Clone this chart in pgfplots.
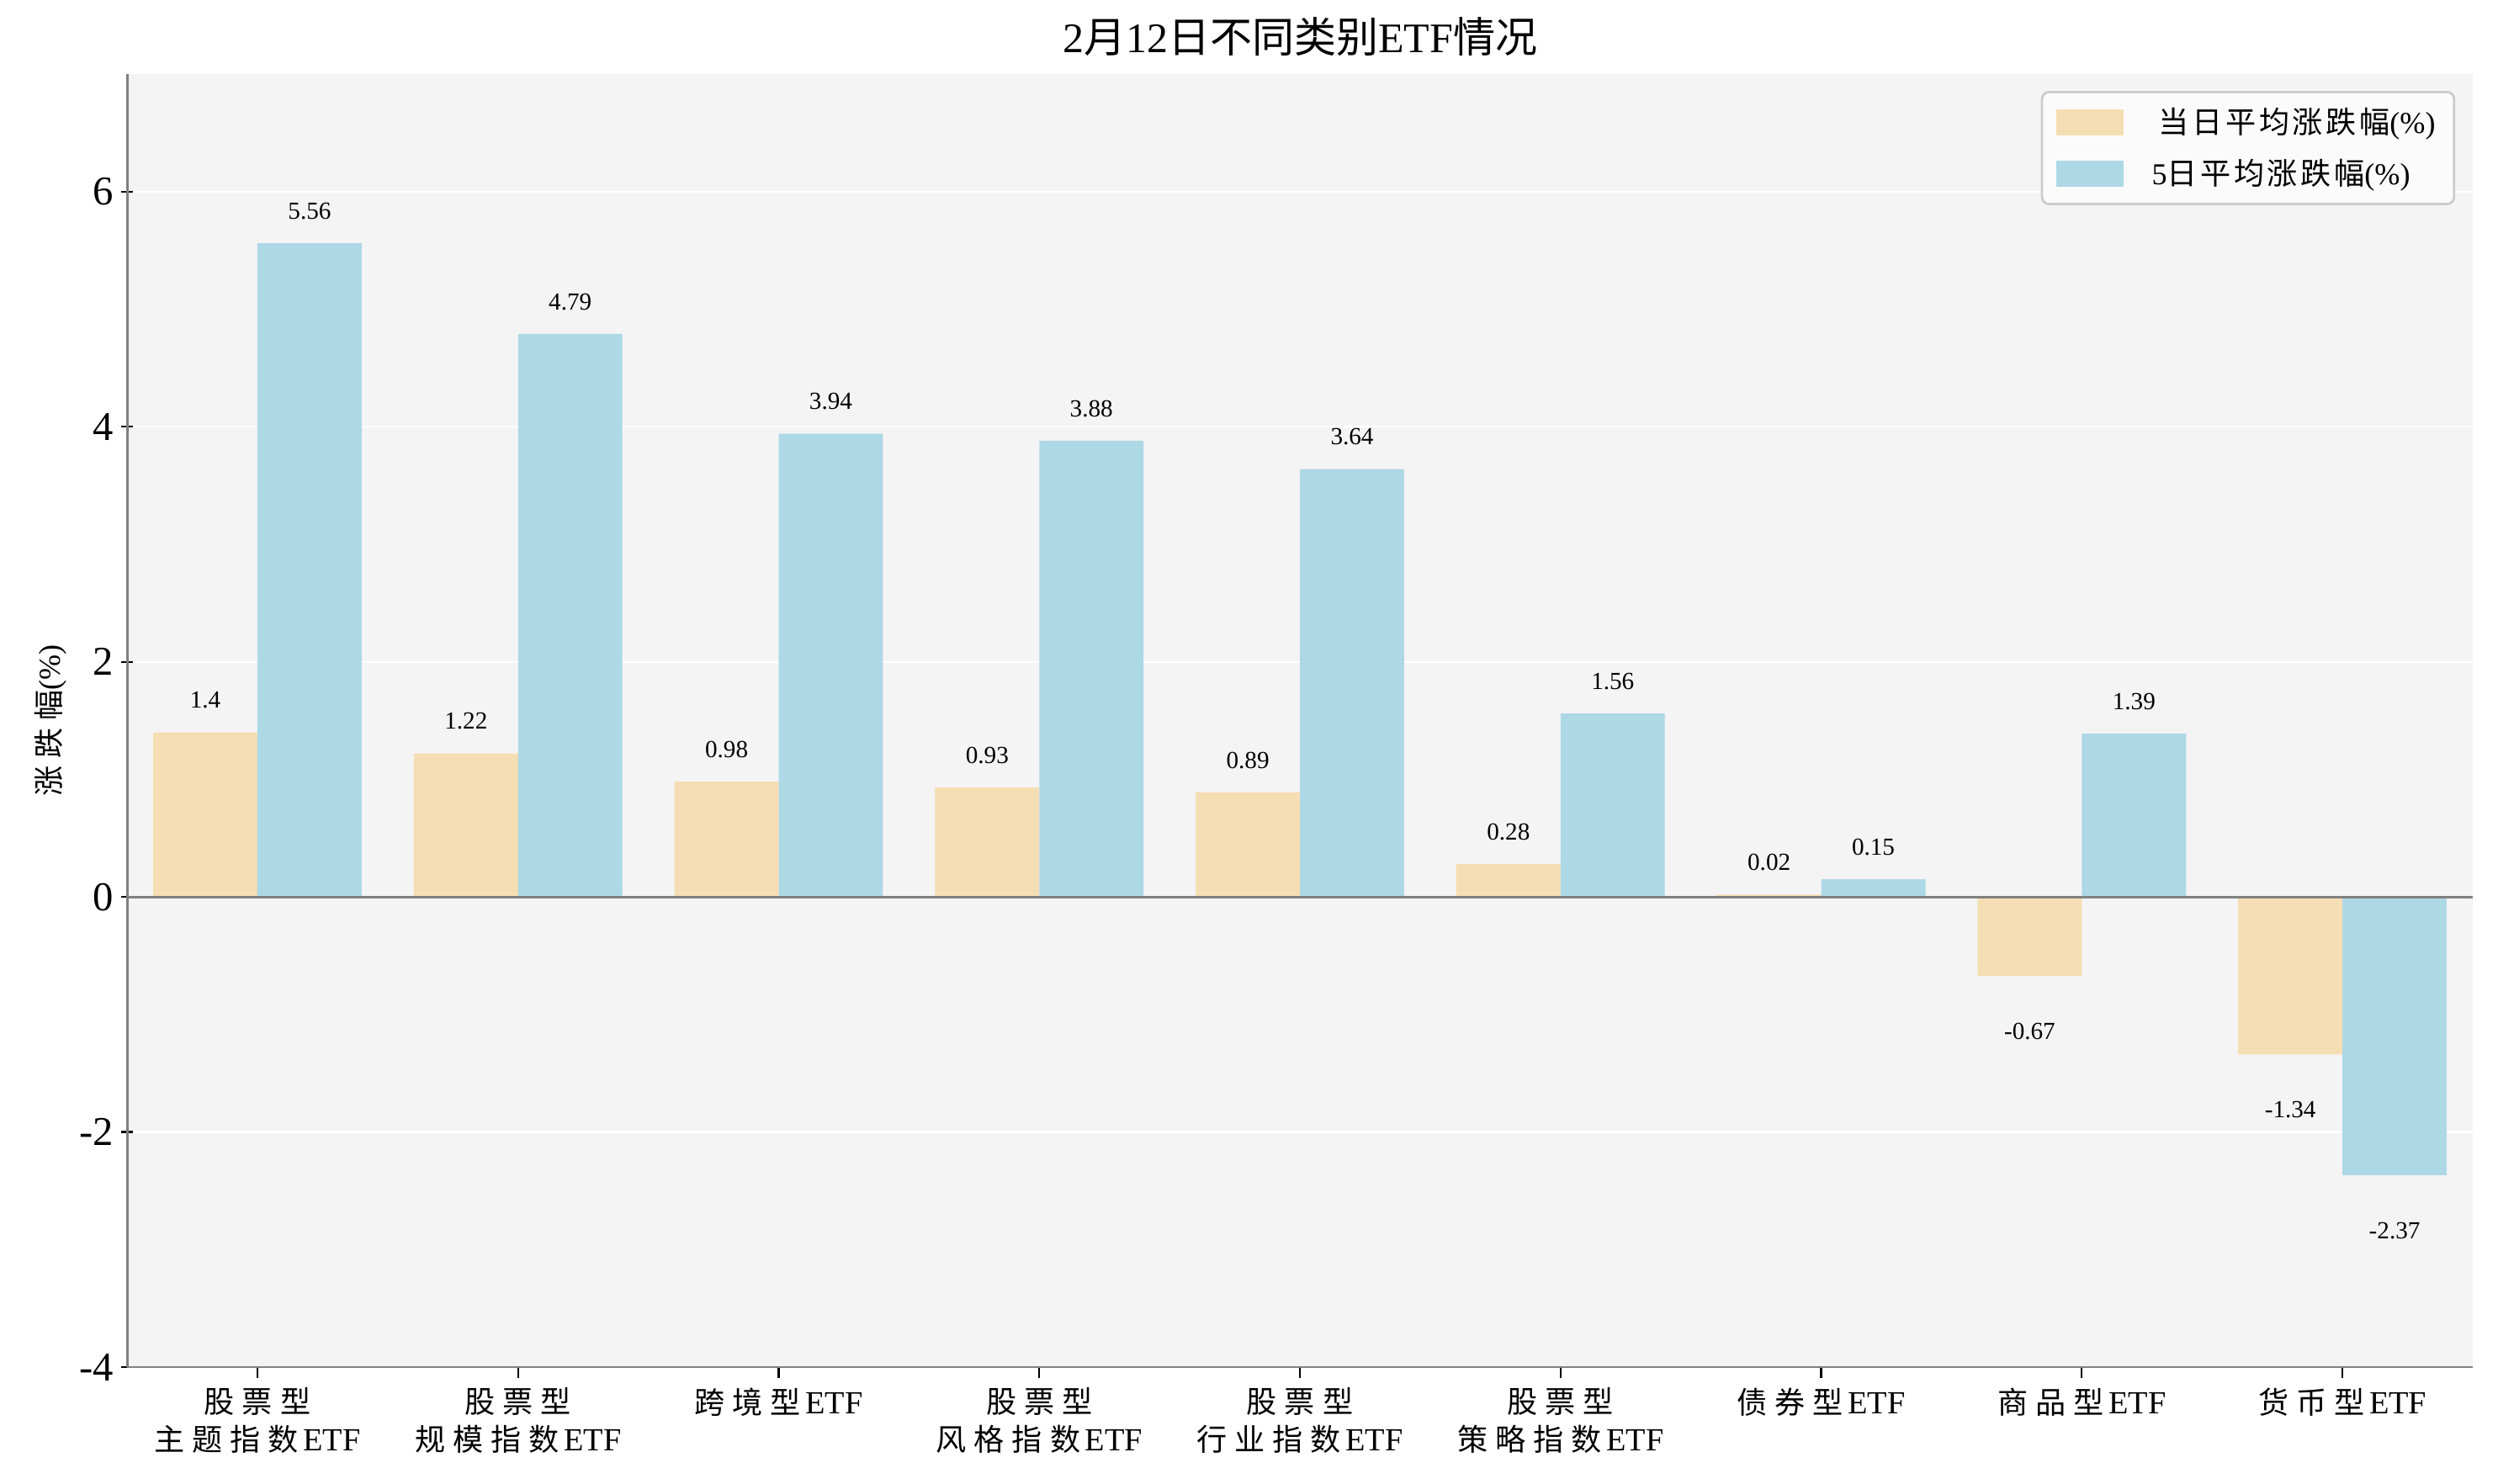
\documentclass[border=0pt]{standalone}
\usepackage{pgfplots}
\pgfplotsset{compat=1.18}
\usepackage{fontspec}
\setmainfont{Liberation Serif}
\newfontfamily\cjk{Noto Sans CJK SC}
\newfontfamily\cjks[LetterSpace=25]{Noto Sans CJK SC}
\newfontfamily\cjkm[LetterSpace=10]{Noto Sans CJK SC}
\newcommand\etf{\hspace{2pt}{\fontsize{13.8}{16}\selectfont ETF}}
\definecolor{wheatc}{HTML}{F5DEB3}
\definecolor{lbluec}{HTML}{ADD8E6}
\definecolor{bgc}{HTML}{F4F4F4}
\definecolor{spinec}{HTML}{808080}
\definecolor{legedge}{HTML}{CCCCCC}
\definecolor{legfill}{HTML}{FBFBFB}
\begin{document}
\begin{tikzpicture}
\begin{axis}[
  at={(0,0)}, anchor=south west,
  scale only axis, width=1003.7pt, height=553.3pt,
  xmin=-0.5, xmax=8.5, ymin=-4, ymax=7,
  axis background/.style={fill=bgc},
  axis x line*=bottom, axis y line*=left,
  axis line style={spinec, line width=1pt},
  ytick={-4,-2,0,2,4,6},
  ymajorgrids, major grid style={white, line width=0.8pt},
  xtick={0,...,8},
  xticklabels={
    {{\cjks 股票型}\\{\cjks 主题指数}\etf},
    {{\cjks 股票型}\\{\cjks 规模指数}\etf},
    {{\cjks 跨境型}\etf},
    {{\cjks 股票型}\\{\cjks 风格指数}\etf},
    {{\cjks 股票型}\\{\cjks 行业指数}\etf},
    {{\cjks 股票型}\\{\cjks 策略指数}\etf},
    {{\cjks 债券型}\etf},
    {{\cjks 商品型}\etf},
    {{\cjks 货币型}\etf}},
  xticklabel style={font=\fontsize{13}{16}\selectfont, align=center, anchor=north, yshift=-0.5pt},
  yticklabel style={font=\fontsize{17.5}{20}\selectfont},
  /pgf/number format/assume math mode=true,
  /pgf/number format/fixed, /pgf/number format/precision=2,
  tick align=center, major tick length=4.8pt,
  tick style={black, line width=0.8pt},
  ylabel={{\cjks 涨跌幅}(\%)},
  every axis y label/.style={at={(axis description cs:0,0.5)}, xshift=-32.8pt, rotate=90, anchor=center, font=\fontsize{13}{15}\selectfont},
  title={2{\cjk 月}12{\cjk 日不同类别}ETF{\cjk 情况}},
  title style={at={(axis description cs:0.5,1)}, anchor=south, yshift=-2pt, font=\fontsize{18}{20}\selectfont},
  ybar, bar width=0.4,
  legend cell align=left,
  legend style={at={(axis description cs:1,1)}, anchor=north east, xshift=-7.5pt, yshift=-7.2pt,
    draw=legedge, fill=legfill, rounded corners=3pt, line width=1pt,
    font=\fontsize{13}{16}\selectfont, inner xsep=6pt, inner ysep=4.7pt, row sep=5.7pt,
    nodes={inner sep=2pt}},
  legend image code/.code={\path[#1, draw=none, sharp corners] (0pt,-5.5pt) rectangle (29pt,5.5pt);},
  nodes near coords,
  every node near coord/.append style={font=\fontsize{10.5}{12}\selectfont, black, inner sep=0pt},
]
% 当日平均涨跌幅 (positive part)
\addplot[fill=wheatc, draw=none, bar shift=-0.2,
  every node near coord/.append style={anchor=south, yshift=10pt}]
  coordinates {(0,1.4) (1,1.22) (2,0.98) (3,0.93) (4,0.89) (5,0.28) (6,0.02)};
\addlegendentry{\hspace{13pt}{\cjkm 当日平均涨跌幅}(\%)}
% 5日平均涨跌幅 (positive part)
\addplot[fill=lbluec, draw=none, bar shift=0.2,
  every node near coord/.append style={anchor=south, yshift=10pt}]
  coordinates {(0,5.56) (1,4.79) (2,3.94) (3,3.88) (4,3.64) (5,1.56) (6,0.15) (7,1.39)};
\addlegendentry{\hspace{10pt}5{\cjkm 日平均涨跌幅}(\%)}
% negative parts
\addplot[fill=wheatc, draw=none, bar shift=-0.2, forget plot,
  every node near coord/.append style={anchor=north, yshift=-20pt}]
  coordinates {(7,-0.67) (8,-1.34)};
\addplot[fill=lbluec, draw=none, bar shift=0.2, forget plot,
  every node near coord/.append style={anchor=north, yshift=-20pt}]
  coordinates {(8,-2.37)};
\draw[spinec, line width=1pt] ({rel axis cs:0,0}|-{axis cs:0,0}) -- ({rel axis cs:1,0}|-{axis cs:0,0});
\end{axis}
\pgfresetboundingbox
\path[use as bounding box] (-54.4pt,-50pt) rectangle (1014.4pt,585pt);
\end{tikzpicture}
\end{document}
